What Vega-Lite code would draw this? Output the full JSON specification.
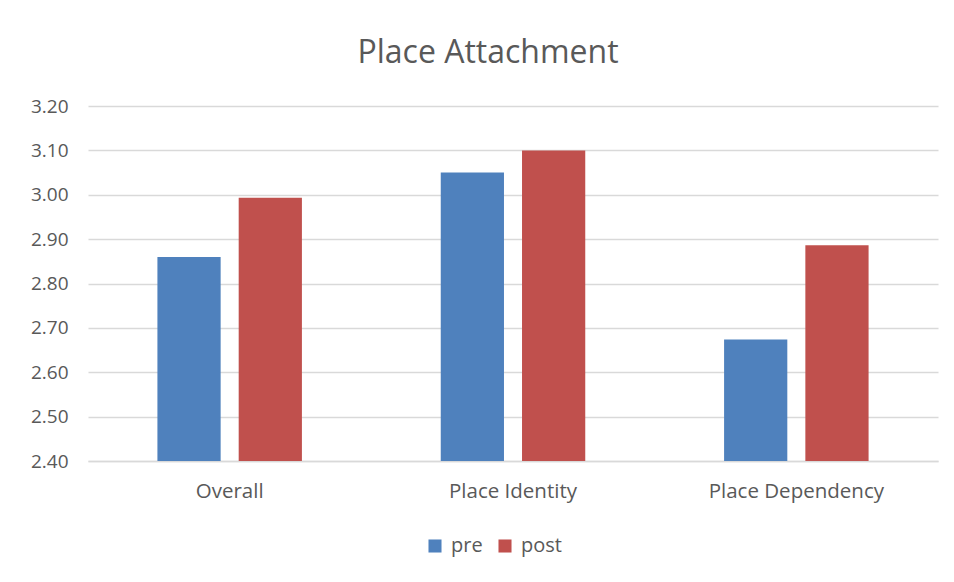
{
  "$schema": "https://vega.github.io/schema/vega-lite/v6.json",
  "autosize": {"type": "none"},
  "width": 850,
  "height": 355,
  "padding": {"left": 88, "top": 106, "right": 16, "bottom": 121},
  "background": "white",
  "title": {
    "text": "Place Attachment",
    "font": "Open Sans",
    "fontSize": 32,
    "fontWeight": "normal",
    "color": "#595959",
    "anchor": "middle",
    "frame": "group",
    "offset": 27,
    "dx": -25
  },
  "data": {
    "values": [
      {"category": "Overall", "time": "pre", "value": 2.86},
      {"category": "Overall", "time": "post", "value": 2.993},
      {"category": "Place Identity", "time": "pre", "value": 3.05},
      {"category": "Place Identity", "time": "post", "value": 3.10},
      {"category": "Place Dependency", "time": "pre", "value": 2.674},
      {"category": "Place Dependency", "time": "post", "value": 2.886}
    ]
  },
  "mark": {"type": "bar", "clip": true},
  "encoding": {
    "x": {
      "field": "category",
      "type": "nominal",
      "sort": ["Overall", "Place Identity", "Place Dependency"],
      "scale": {"paddingInner": 0.49, "paddingOuter": 0.245},
      "axis": {
        "title": null,
        "labelAngle": 0,
        "ticks": false,
        "domain": true,
        "domainColor": "#d9d9d9",
        "domainWidth": 1.5,
        "labelFont": "Open Sans",
        "labelFontSize": 20.5,
        "labelColor": "#595959",
        "labelPadding": 20
      }
    },
    "xOffset": {
      "field": "time",
      "type": "nominal",
      "sort": ["pre", "post"],
      "scale": {"paddingInner": 0.222, "paddingOuter": 0}
    },
    "y": {
      "field": "value",
      "type": "quantitative",
      "scale": {"domain": [2.4, 3.2], "zero": false, "nice": false},
      "axis": {
        "title": null,
        "values": [2.4, 2.5, 2.6, 2.7, 2.8, 2.9, 3.0, 3.1, 3.2],
        "format": ".2f",
        "ticks": false,
        "domain": false,
        "grid": true,
        "gridColor": "#d9d9d9",
        "gridWidth": 1.5,
        "labelFont": "Open Sans",
        "labelFontSize": 19,
        "labelColor": "#595959",
        "labelPadding": 20
      }
    },
    "color": {
      "field": "time",
      "type": "nominal",
      "sort": ["pre", "post"],
      "scale": {"domain": ["pre", "post"], "range": ["#4F81BD", "#C0504D"]},
      "legend": {
        "title": null,
        "orient": "none",
        "direction": "horizontal",
        "legendX": 337,
        "legendY": 430,
        "symbolType": "square",
        "symbolSize": 170,
        "symbolStrokeWidth": 0,
        "labelFont": "Open Sans",
        "labelFontSize": 20,
        "labelColor": "#595959",
        "columnPadding": 12,
        "labelOffset": 6
      }
    }
  },
  "config": {
    "view": {"stroke": null}
  }
}
